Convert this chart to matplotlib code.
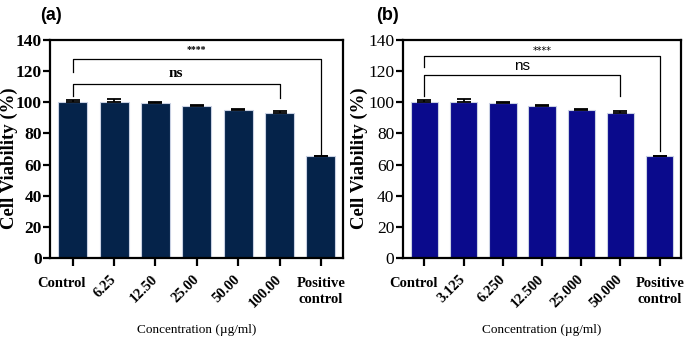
import numpy as np
import matplotlib
matplotlib.use('Agg')
import matplotlib.pyplot as plt
from matplotlib.transforms import ScaledTranslation

# data
labels_a = ['Control', '6.25', '12.50', '25.00', '50.00', '100.00', 'Positive\ncontrol']
labels_b = ['Control', '3.125', '6.250', '12.500', '25.000', '50.000', 'Positive\ncontrol']
viab_a = [100.4, 100.0, 99.7, 97.7, 94.9, 93.2, 65.2]
err_a = [1.3, 2.4, 0.3, 0.5, 0.8, 1.2, 0.3]
viab_b = [100.4, 100.0, 99.7, 97.7, 94.8, 93.2, 65.2]
err_b = [1.3, 2.4, 0.3, 0.5, 0.8, 1.1, 0.3]
yticks = [0, 20, 40, 60, 80, 100, 120, 140]

serif = 'Liberation Serif'

fig = plt.figure(figsize=(6.85, 3.39), dpi=100)
ax_a = fig.add_axes([0.073, 0.239, 0.428, 0.643])
ax_b = fig.add_axes([0.588, 0.239, 0.406, 0.643])


def draw_panel(ax, labels, vals, errs, color, ytick_weight, sig, ylab_x):
    x = np.arange(len(labels))
    ax.bar(x, vals, width=0.7, color=color, edgecolor='#c9d1e3', linewidth=0.8, zorder=2)
    ax.errorbar(x, vals, yerr=[np.zeros(len(errs)), errs], fmt='none', ecolor='black',
                elinewidth=1.3, capsize=5, capthick=1.3, zorder=3)
    ax.set_xlim(-0.55, len(labels) - 0.46)
    ax.set_ylim(0, 140)
    ax.set_yticks(yticks)
    ax.set_yticklabels([str(t) for t in yticks], fontfamily=serif, fontsize=12.5, fontweight=ytick_weight)
    ax.set_xticks(x)
    ax.set_xticklabels(labels, fontfamily=serif, fontsize=10.5, fontweight='bold')
    for s in ax.spines.values():
        s.set_linewidth(1.6)
    ax.tick_params(axis='y', width=1.6, length=5, pad=1)
    ax.tick_params(axis='x', width=1.6, length=6, pad=8)
    ax.set_ylabel('Cell Viability (%)', fontfamily=serif, fontsize=13.5, fontweight='bold')
    ax.yaxis.set_label_coords(ylab_x, 0.46)
    ax.set_xlabel('Concentration (\u00b5g/ml)', fontfamily=serif, fontsize=9.5, labelpad=10)

    # significance brackets
    (y4, l4, r4, ty4, tf4), (yn, ln, rn, tyn, tfn) = sig
    ax.plot([0, 0, 6, 6], [l4, y4, y4, r4], color='black', lw=0.9, zorder=4)
    ax.text(3, ty4, '****', ha='center', va='center', fontsize=7, **tf4)
    ax.plot([0, 0, 5, 5], [ln, yn, yn, rn], color='black', lw=0.9, zorder=4)
    ax.text(2.5, tyn, 'ns', ha='center', va='center', **tfn)


draw_panel(ax_a, labels_a, viab_a, err_a, '#05234a', 'bold',
           [(128, 119.5, 66, 134, dict(fontfamily=serif, fontweight='bold')),
            (112, 104, 103, 118.5, dict(fontfamily=serif, fontweight='bold', fontsize=11))],
           -0.11)
draw_panel(ax_b, labels_b, viab_b, err_b, '#0a0a8c', 'normal',
           [(130, 122.5, 69, 133, dict(fontfamily='DejaVu Sans')),
            (117.5, 104, 104, 123, dict(fontfamily='Liberation Sans', fontsize=11))],
           -0.124)

# tick label orientation: end labels flat, concentrations at 45 degrees
for ax in (ax_a, ax_b):
    tl = ax.get_xticklabels()
    for i, t in enumerate(tl):
        if 0 < i < len(tl) - 1:
            t.set_rotation(45)
            t.set_ha('right')
            t.set_va('center')
            t.set_rotation_mode('anchor')
        else:
            t.set_linespacing(1.3)
    tl[0].set_transform(tl[0].get_transform() + ScaledTranslation(-0.11, 0, fig.dpi_scale_trans))

fig.text(0.075, 0.953, '(a)', fontfamily='Liberation Sans', fontweight='bold', fontsize=13,
         ha='center', va='center')
fig.text(0.566, 0.953, '(b)', fontfamily='Liberation Sans', fontweight='bold', fontsize=13,
         ha='center', va='center')

fig.savefig('out.png', dpi=100)
